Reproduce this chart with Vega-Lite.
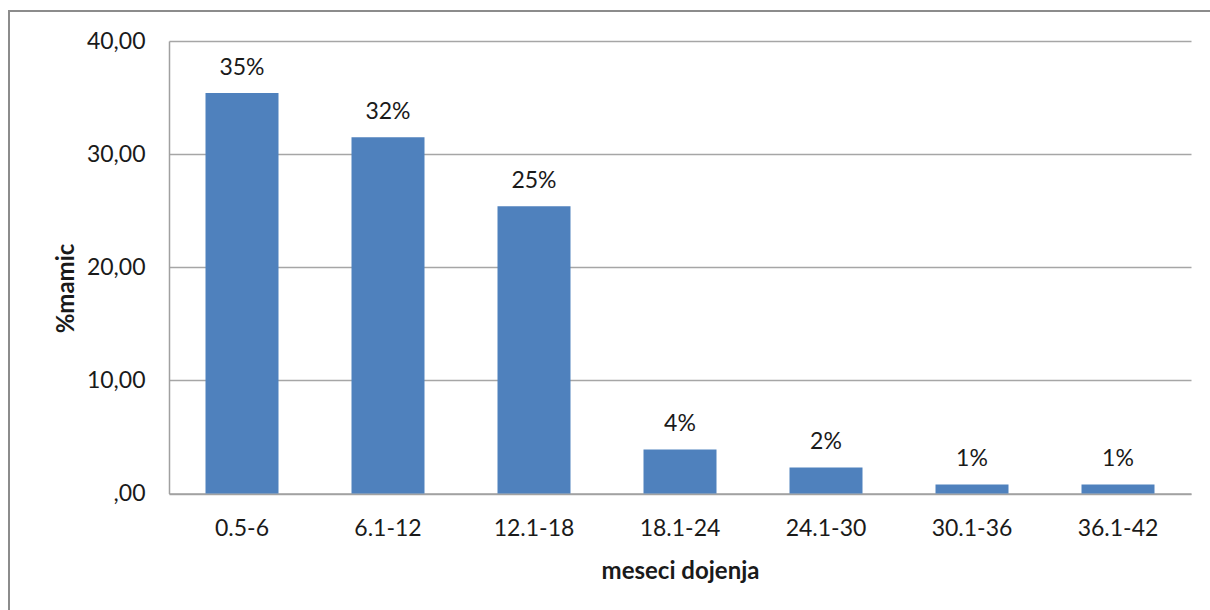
{
  "$schema": "https://vega.github.io/schema/vega-lite/v6.json",
  "width": 1210,
  "height": 610,
  "autosize": {"type": "none"},
  "padding": {"left": 9, "top": 11, "right": 0, "bottom": 0},
  "background": "white",
  "config": {
    "view": {"stroke": "#8c8c8c", "strokeWidth": 2},
    "font": "Lato",
    "axis": {"labelColor": "#1a1a1a", "titleColor": "#1a1a1a"}
  },
  "data": {
    "values": [
      {"period": "0.5-6", "pct": 35.4},
      {"period": "6.1-12", "pct": 31.5},
      {"period": "12.1-18", "pct": 25.4},
      {"period": "18.1-24", "pct": 3.9},
      {"period": "24.1-30", "pct": 2.3},
      {"period": "30.1-36", "pct": 0.8},
      {"period": "36.1-42", "pct": 0.8}
    ]
  },
  "transform": [
    {"calculate": "format(datum.pct, '.0f') + '%'", "as": "label"}
  ],
  "encoding": {
    "x": {
      "field": "period",
      "type": "ordinal",
      "sort": null,
      "scale": {"range": [160, 1182], "paddingInner": 0.5, "paddingOuter": 0.25},
      "axis": {
        "title": "meseci dojenja",
        "orient": "bottom",
        "offset": -127.5,
        "labelAngle": 0,
        "ticks": false,
        "grid": false,
        "domainColor": "#a0a0a0",
        "domainWidth": 1.5,
        "labelFontSize": 23,
        "labelPadding": 24,
        "titleFontSize": 24,
        "titleFontWeight": "bold",
        "titleY": 78,
        "titleBaseline": "middle"
      }
    },
    "y": {
      "field": "pct",
      "type": "quantitative",
      "scale": {"domain": [0, 40], "range": [482.5, 30], "nice": false},
      "axis": {
        "title": "%mamic",
        "orient": "left",
        "offset": -160,
        "values": [0, 10, 20, 30, 40],
        "labelExpr": "datum.value == 0 ? ',00' : replace(format(datum.value, '.2f'), '.', ',')",
        "ticks": false,
        "grid": true,
        "gridColor": "#a6a6a6",
        "gridWidth": 1.5,
        "domainColor": "#a0a0a0",
        "domainWidth": 1.5,
        "labelFontSize": 23,
        "labelPadding": 24,
        "titleFontSize": 24,
        "titleFontWeight": "bold",
        "titleX": -103,
        "titleY": 277,
        "titleAlign": "center",
        "titleBaseline": "middle",
        "titleAngle": -90
      }
    }
  },
  "layer": [
    {"mark": {"type": "bar", "color": "#4f81bd"}},
    {
      "mark": {"type": "text", "baseline": "alphabetic", "dy": -18, "fontSize": 23, "color": "#1a1a1a"},
      "encoding": {"text": {"field": "label"}}
    }
  ]
}
